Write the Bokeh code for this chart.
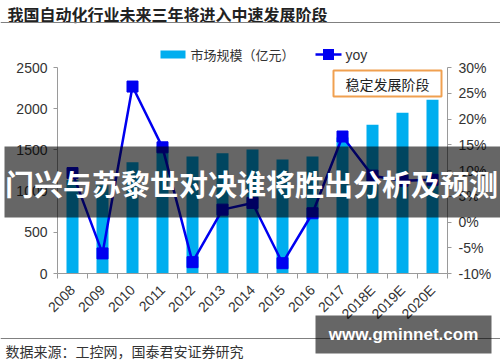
import math
from bokeh.plotting import figure
from bokeh.models import (ColumnDataSource, Range1d, LinearAxis, FixedTicker,
                          Label, BoxAnnotation, GridBox)
from bokeh.embed import file_html
from bokeh.resources import INLINE

# ---- data ----
years = ["2008", "2009", "2010", "2011", "2012", "2013", "2014",
         "2015", "2016", "2017", "2018E", "2019E", "2020E"]
market = [1135, 1070, 1350, 1545, 1420, 1460, 1505, 1385, 1420, 1650, 1805, 1950, 2110]
yoy = [9.5, -6.1, 26.3, 14.5, -7.8, 2.4, 3.7, -8.0, 1.7, 16.6, 9.0, 8.0, 8.2]
left_ticks = [0, 500, 1000, 1500, 2000, 2500]
right_ticks = [-10, -5, 0, 5, 10, 15, 20, 25, 30]

title_text = "我国自动化行业未来三年将进入中速发展阶段"
source_text = "数据来源：工控网，国泰君安证券研究"
bar_name = "市场规模（亿元）"
line_name = "yoy"
stage_text = "稳定发展阶段"
banner_text = "门兴与苏黎世对决谁将胜出分析及预测"
site_text = "www.gminnet.com"

W, H = 500, 360
xs = list(range(len(years)))
src = ColumnDataSource(dict(x=xs, market=market, yoy=yoy))

AX = "#9a9a9a"
TXT = "#333333"
BAR = "#00AEEF"
LINE = "#0000F0"

# ---------------- main chart ----------------
p = figure(width=W, height=H, x_range=Range1d(-0.5, len(years) - 0.5),
           y_range=Range1d(0, 2500), output_backend="svg", toolbar_location=None,
           min_border_left=57, min_border_right=53, min_border_top=67,
           min_border_bottom=87)
p.frame_align = False
p.outline_line_color = None
p.xgrid.visible = False
p.ygrid.visible = False
p.background_fill_color = "white"
p.border_fill_color = "white"
p.extra_y_ranges = {"pct": Range1d(-10, 30)}

xa = p.xaxis[0]
xa.ticker = FixedTicker(ticks=xs, minor_ticks=[i - 0.5 for i in range(len(years) + 1)])
xa.major_label_overrides = {i: y for i, y in zip(xs, years)}
xa.major_tick_line_color = None
xa.major_tick_out = 5
xa.major_tick_in = 0
xa.minor_tick_out = 5
xa.minor_tick_in = 0
xa.minor_tick_line_color = AX
xa.axis_line_color = AX
xa.major_label_orientation = math.pi / 4
xa.major_label_standoff = 9
xa.major_label_text_font = "Liberation Sans"
xa.major_label_text_font_size = "14px"
xa.major_label_text_color = TXT

ya = p.yaxis[0]
ya.ticker = FixedTicker(ticks=left_ticks)
ya.major_label_overrides = {v: str(v) for v in left_ticks}
ya.minor_tick_line_color = None
ya.major_tick_out = 4
ya.major_tick_in = 0
ya.major_tick_line_color = AX
ya.axis_line_color = AX
ya.major_label_standoff = 6
ya.major_label_text_font = "Liberation Sans"
ya.major_label_text_font_size = "14px"
ya.major_label_text_color = TXT

ra = LinearAxis(y_range_name="pct", ticker=FixedTicker(ticks=right_ticks))
ra.major_label_overrides = {v: f"{v}%" for v in right_ticks}
ra.minor_tick_line_color = None
ra.major_tick_out = 4
ra.major_tick_in = 0
ra.major_tick_line_color = AX
ra.axis_line_color = AX
ra.major_label_standoff = 7
ra.major_label_text_font = "Liberation Sans"
ra.major_label_text_font_size = "14px"
ra.major_label_text_color = TXT
p.add_layout(ra, "right")

bars = p.vbar(x="x", top="market", width=0.4, bottom=0, source=src,
              fill_color=BAR, line_color=None)
ln = p.line(x="x", y="yoy", source=src, y_range_name="pct",
            line_color=LINE, line_width=2.5)
mk = p.scatter(x="x", y="yoy", source=src, y_range_name="pct", marker="square",
               size=11, fill_color=LINE, line_color=LINE)

# ---------------- overlay (page-pixel coordinates) ----------------
q = figure(width=W, height=H, x_range=Range1d(0, W), y_range=Range1d(H, 0),
           output_backend="svg", toolbar_location=None,
           x_axis_type=None, y_axis_type=None,
           min_border=0, min_border_left=0, min_border_right=0,
           min_border_top=0, min_border_bottom=0)
q.frame_align = False
q.outline_line_color = None
q.xgrid.visible = False
q.ygrid.visible = False
q.background_fill_alpha = 0
q.border_fill_alpha = 0


def box(l, r, t, b, **kw):
    q.add_layout(BoxAnnotation(left=l, right=r, top=t, bottom=b, **kw))


def text(x, y, s, **kw):
    q.add_layout(Label(x=x, y=y, text=s, **kw))


# title + rule
text(7, 13, title_text, text_font="Noto Sans CJK SC", text_font_style="bold",
     text_font_size="16px", text_color="#222222", text_baseline="middle",
     text_align="left")
box(0, W, 21.5, 22.5, fill_color="#808080", fill_alpha=1, line_color=None)

# legend
box(160, 185, 50, 58, fill_color=BAR, fill_alpha=1, line_color=None)
text(190, 54, bar_name, text_font="Noto Sans CJK SC", text_font_size="13px",
     text_color=TXT, text_baseline="middle", text_align="left")
box(315, 341, 52.8, 55.3, fill_color=LINE, fill_alpha=1, line_color=None)
box(322.5, 333.5, 48.5, 59.5, fill_color=LINE, fill_alpha=1, line_color=None)
text(345, 54, line_name, text_font="Liberation Sans", text_font_size="14px",
     text_color=TXT, text_baseline="middle", text_align="left")

# stage box
box(333, 441, 70, 96, fill_color="white", fill_alpha=1,
    line_color="#F0A050", line_width=2, line_alpha=1)
text(387, 83, stage_text, text_font="Noto Sans CJK SC", text_font_size="14px",
     text_color="#222222", text_align="center", text_baseline="middle")

# bottom rule + source
box(0, W, 337.5, 338.5, fill_color="#808080", fill_alpha=1, line_color=None)
text(5, 350, source_text, text_font="Noto Sans CJK SC", text_font_size="14px",
     text_color=TXT, text_baseline="middle", text_align="left")

# banner
box(4, W, 146, 217, fill_color="black", fill_alpha=0.6, line_color=None)
text(251, 182, banner_text, text_font="Noto Sans CJK SC", text_font_style="bold",
     text_font_size="29px", text_color="white", text_align="center",
     text_baseline="middle")

# site watermark
box(315, 491, 315, 353, fill_color="black", fill_alpha=0.6, line_color=None)
text(403, 334, site_text, text_font="Liberation Sans", text_font_style="bold",
     text_font_size="17px", text_color="white", text_align="center",
     text_baseline="middle")

layout = GridBox(children=[(p, 0, 0), (q, 0, 0)])
open("out.html", "w").write(file_html(layout, INLINE))
